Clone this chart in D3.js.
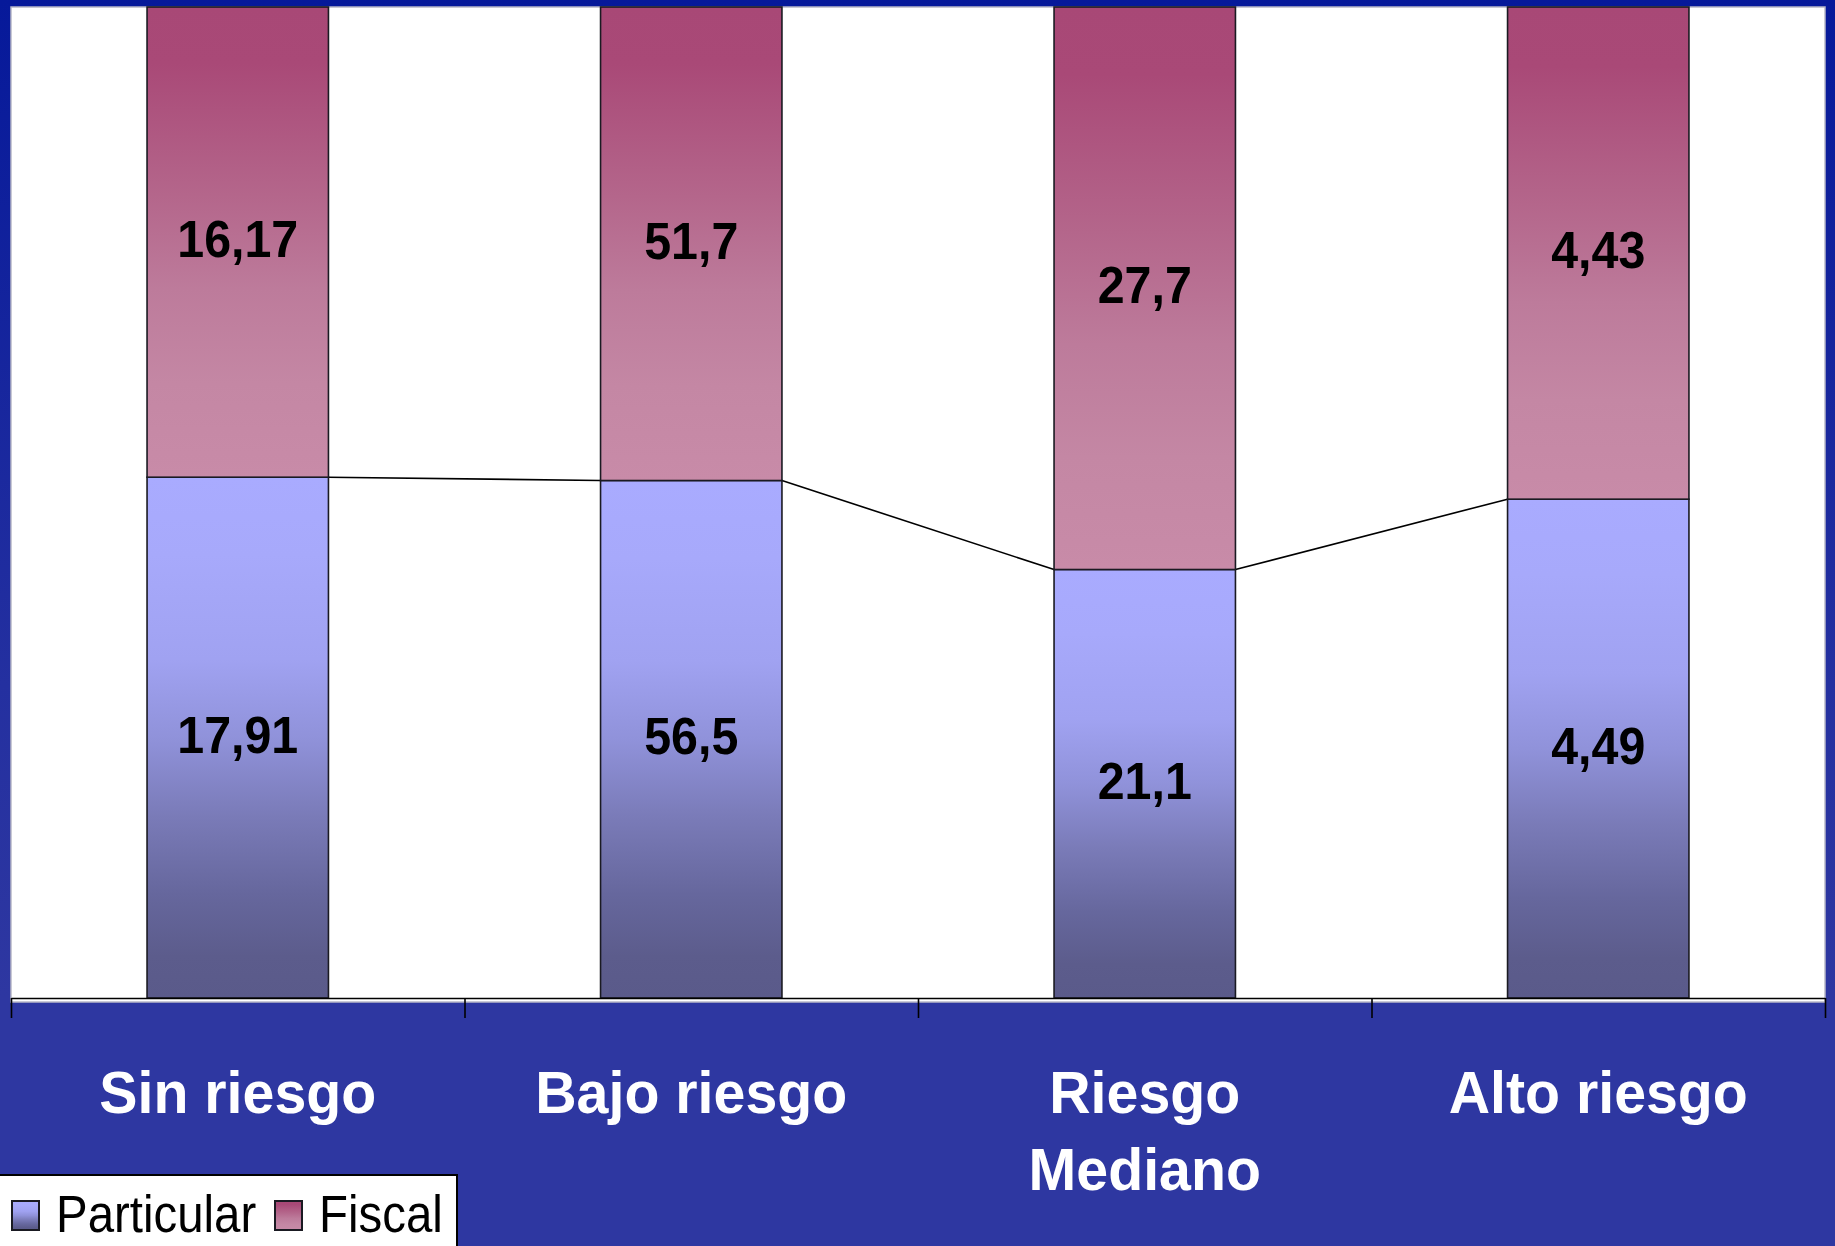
<!DOCTYPE html>
<html>
<head>
<meta charset="utf-8">
<script src="https://cdn.jsdelivr.net/npm/d3@7"></script>
<style>
	body { margin: 0; overflow: hidden; }
	svg { display: block; }
	text { font-family: Arial, 'Liberation Sans', sans-serif; }
</style>
</head>
<body>
<svg id="chart" width="1835" height="1246"></svg>
<script>
// values
const categories = ['Sin riesgo', 'Bajo riesgo', 'Riesgo Mediano', 'Alto riesgo']
const categoryLines = [['Sin riesgo'], ['Bajo riesgo'], ['Riesgo', 'Mediano'], ['Alto riesgo']]
const seriesNames = ['Particular', 'Fiscal']
const particular = [17.91, 56.5, 21.1, 4.49]
const fiscal = [16.17, 51.7, 27.7, 4.43]

let config = {
	width: 1835,
	height: 1246,
	plotLeft: 11,
	plotRight: 1825,
	plotTop: 7,
	plotBottom: 998,
	squeeze: 0.93,
	catSqueeze: 0.955,
}

let svg = d3.select('#chart')

function prepareDefs() {
	let defs = svg.append('defs')

	let bg = defs.append('linearGradient')
		.attr('id', 'bg-grad')
		.attr('x1', 0).attr('y1', 0).attr('x2', 0).attr('y2', 1)
	bg.append('stop').attr('offset', 0).attr('stop-color', '#06199a')
	bg.append('stop').attr('offset', 0.55).attr('stop-color', '#2430a0')
	bg.append('stop').attr('offset', 0.8).attr('stop-color', '#2e37a1')

	let partStops = [
		[0, '#a9abff'], [0.15, '#a7a9fb'], [0.35, '#a0a2f1'], [0.5, '#9092da'],
		[0.65, '#7a7bb8'], [0.8, '#66679d'], [0.92, '#5c5c8c'], [1, '#5a5a8a']
	]
	let fiscStops = [
		[0, '#a84876'], [0.12, '#a94977'], [0.4, '#b4668b'], [0.6, '#bd7b9b'],
		[0.8, '#c487a4'], [1, '#c88ba8']
	]
	let grads = { Particular: partStops, Fiscal: fiscStops }
	Object.keys(grads).forEach(name => {
		let g = defs.append('linearGradient')
			.attr('id', 'grad-' + name)
			.attr('x1', 0).attr('y1', 0).attr('x2', 0).attr('y2', 1)
		grads[name].forEach(s => {
			g.append('stop').attr('offset', s[0]).attr('stop-color', s[1])
		})
	})
}

function drawBackground() {
	svg.append('rect')
		.attr('width', config.width)
		.attr('height', config.height)
		.attr('fill', 'url(#bg-grad)')

	svg.append('rect')
		.attr('x', config.plotLeft)
		.attr('y', config.plotTop)
		.attr('width', config.plotRight - config.plotLeft)
		.attr('height', config.plotBottom + 4 - config.plotTop)
		.attr('fill', '#ffffff')
		.attr('stroke', '#b8b8c8')
		.attr('stroke-width', 1.5)
}

function render() {
	let rows = categories.map((c, i) => ({ cat: c, Particular: particular[i], Fiscal: fiscal[i] }))
	let stacked = d3.stack()
		.keys(seriesNames)
		.offset(d3.stackOffsetExpand)(rows)

	let xScale = d3.scaleBand()
		.domain(categories)
		.range([config.plotLeft, config.plotRight])
		.paddingInner(0.6)
		.paddingOuter(0.3)

	let yScale = d3.scaleLinear()
		.domain([0, 1])
		.range([config.plotBottom, config.plotTop])

	// series lines between the tops of the Particular segments
	let partLayer = stacked[0]
	let lineG = svg.append('g')
	for (let i = 0; i < partLayer.length - 1; i++) {
		let a = partLayer[i], b = partLayer[i + 1]
		lineG.append('line')
			.attr('x1', xScale(a.data.cat) + xScale.bandwidth())
			.attr('y1', yScale(a[1]))
			.attr('x2', xScale(b.data.cat))
			.attr('y2', yScale(b[1]))
			.attr('stroke', '#000')
			.attr('stroke-width', 1.6)
	}

	let layers = svg.selectAll('g.layer')
		.data(stacked)
		.enter()
		.append('g')
		.attr('class', 'layer')

	layers.selectAll('rect')
		.data(d => d.map(p => Object.assign(p, { key: d.key })))
		.enter()
		.append('rect')
		.attr('x', d => xScale(d.data.cat))
		.attr('y', d => yScale(d[1]))
		.attr('width', xScale.bandwidth())
		.attr('height', d => yScale(d[0]) - yScale(d[1]))
		.attr('fill', d => 'url(#grad-' + d.key + ')')
		.attr('stroke', '#1a1a22')
		.attr('stroke-width', 1.6)

	layers.selectAll('text')
		.data(d => d)
		.enter()
		.append('text')
		.attr('transform', d => {
			let cx = xScale(d.data.cat) + xScale.bandwidth() / 2
			let cy = (yScale(d[0]) + yScale(d[1])) / 2 + 15
			return `translate(${cx},${cy}) scale(${config.squeeze},1)`
		})
		.attr('text-anchor', 'middle')
		.attr('font-size', 52)
		.attr('font-weight', 'bold')
		.attr('fill', '#000')
		.text(d => String(d.data[d.key]).replace('.', ','))

	return xScale
}

function drawAxis() {
	let tickScale = d3.scaleLinear()
		.domain([0, categories.length])
		.range([config.plotLeft, config.plotRight])

	let axisG = svg.append('g')
		.attr('transform', `translate(0, ${config.plotBottom})`)
		.call(d3.axisBottom(tickScale)
			.tickValues(d3.range(categories.length + 1))
			.tickSize(20)
			.tickSizeOuter(0)
			.tickFormat(''))
	axisG.select('.domain').attr('stroke', '#000').attr('stroke-width', 1.6)
	axisG.selectAll('.tick line').attr('stroke', '#000').attr('stroke-width', 1.6)

	let labelG = svg.append('g')
	categories.forEach((c, i) => {
		let cx = tickScale(i + 0.5)
		let t = labelG.append('text')
			.attr('transform', `translate(${cx},1113) scale(${config.catSqueeze},1)`)
			.attr('text-anchor', 'middle')
			.attr('font-size', 60)
			.attr('font-weight', 'bold')
			.attr('fill', '#ffffff')
		categoryLines[i].forEach((line, j) => {
			t.append('tspan')
				.attr('x', 0)
				.attr('y', j * 77)
				.text(line)
		})
	})
}

function drawLegend() {
	let g = svg.append('g')
	g.append('rect')
		.attr('x', -3)
		.attr('y', 1175)
		.attr('width', 460)
		.attr('height', 100)
		.attr('fill', '#ffffff')
		.attr('stroke', '#000')
		.attr('stroke-width', 2)

	let items = [
		{ name: seriesNames[0], sx: 12, tx: 56 },
		{ name: seriesNames[1], sx: 275, tx: 319 },
	]
	items.forEach(it => {
		g.append('rect')
			.attr('x', it.sx)
			.attr('y', 1201)
			.attr('width', 27)
			.attr('height', 29)
			.attr('fill', 'url(#grad-' + it.name + ')')
			.attr('stroke', '#1a1a22')
			.attr('stroke-width', 2)
		g.append('text')
			.attr('transform', `translate(${it.tx},1232) scale(${config.squeeze},1)`)
			.attr('font-size', 51)
			.attr('fill', '#000')
			.text(it.name)
	})
}

prepareDefs()
drawBackground()
let xs = render()
drawAxis(xs)
drawLegend()
</script>
</body>
</html>
